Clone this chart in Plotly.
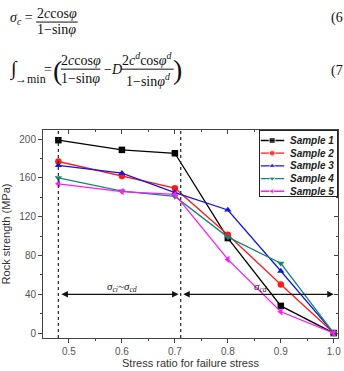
import plotly.graph_objects as go

# ---------------- data ----------------
stress_ratio = [0.48, 0.6, 0.7, 0.8, 0.9, 1.0]
sample_names = ["Sample 1", "Sample 2", "Sample 3", "Sample 4", "Sample 5"]
sample1 = [199, 189, 185.5, 98, 28, 0]
sample2 = [177, 162, 149.5, 101.5, 50, 0]
sample3 = [173, 165, 145, 127, 64, 0]
sample4 = [160, 146.5, 141, 99, 72, 0]
sample5 = [154, 146, 143, 76, 22, 0]
series = [sample1, sample2, sample3, sample4, sample5]
colors = ["#000000", "#ff1a1a", "#1414e6", "#12857a", "#ff1aff"]
symbols = ["square", "circle", "triangle-up", "triangle-down", "triangle-left"]

boundaries = [0.48, 0.711]          # dotted stage boundaries
arrow_level = 40
x_ticks = [0.5, 0.6, 0.7, 0.8, 0.9, 1.0]
y_ticks = [0, 40, 80, 120, 160, 200]

W, H = 344, 371
ML, MR, MT, MB = 43, 3, 130, 29
PW, PH = W - ML - MR, H - MT - MB


def px(x):
    return (x - ML) / PW


def py(y):
    return (H - MB - y) / PH


fig = go.Figure()

for name, vals, c, s in zip(sample_names, series, colors, symbols):
    fig.add_trace(go.Scatter(
        x=stress_ratio, y=vals, name=name, mode="lines+markers",
        line=dict(color=c, width=1.3),
        marker=dict(symbol=s, size=6.5, color=c),
        showlegend=False))

# legend drawn inside an inset subplot (x2/y2)
for i, (name, c, s) in enumerate(zip(sample_names, colors, symbols)):
    yy = 0.853 - i * 0.196
    fig.add_trace(go.Scatter(
        x=[0.013, 0.16, 0.316], y=[yy, yy, yy], mode="lines+markers",
        line=dict(color=c, width=1.3),
        marker=dict(symbol=s, size=[0, 6, 0], color=c),
        xaxis="x2", yaxis="y2", showlegend=False, hoverinfo="skip"))
    fig.add_annotation(
        x=0.37, y=yy, xref="x2", yref="y2", text="<b><i>%s</i></b>" % name,
        showarrow=False, xanchor="left", yanchor="middle",
        font=dict(family="Liberation Sans", size=10, color="#222"))

# empty trace for mirrored inward ticks
fig.add_trace(go.Scatter(x=[None], y=[None], xaxis="x3", yaxis="y3",
                         showlegend=False, hoverinfo="skip"))

# dotted boundaries
for b in boundaries:
    fig.add_shape(type="line", x0=b, x1=b, xref="x", yref="y domain",
                  y0=0, y1=1, line=dict(color="#333", width=1.3, dash="dot"))

# double arrows
spans = [(boundaries[0] + 0.003, boundaries[1] - 0.004),
         (boundaries[1] + 0.002, stress_ratio[-1])]
for a, b in spans:
    fig.add_annotation(x=b, y=arrow_level, ax=a, ay=arrow_level,
                       xref="x", yref="y", axref="x", ayref="y",
                       text="", showarrow=True, arrowhead=2, arrowsize=1,
                       arrowwidth=1.3, arrowcolor="#111",
                       arrowside="end+start")

fig.add_annotation(x=0.6, y=arrow_level + 7.5, xref="x", yref="y",
                   text="<i>σ<sub>ci</sub>~σ<sub>cd</sub></i>", showarrow=False,
                   font=dict(family="Liberation Serif", size=11, color="#222"))
fig.add_annotation(x=0.862, y=arrow_level + 7.5, xref="x", yref="y",
                   text="<i>σ<sub>cd</sub></i>", showarrow=False,
                   font=dict(family="Liberation Serif", size=11, color="#222"))

# ---------------- equations ----------------
ef = dict(family="Liberation Serif", size=14, color="#111")


def eq_text(x, y, t, anchor="center", size=14):
    fig.add_annotation(x=px(x), y=py(y), xref="paper", yref="paper", text=t,
                       showarrow=False, xanchor=anchor, yanchor="middle",
                       font=dict(ef, size=size))


def eq_line(x0, x1, y):
    fig.add_shape(type="line", xref="paper", yref="paper", x0=px(x0), x1=px(x1),
                  y0=py(y), y1=py(y), line=dict(color="#111", width=1))


eq_text(8, 16, "<i>σ<sub>c</sub></i> =", anchor="left")
eq_text(57, 11, "2<i>c</i>cos<i>φ</i>")
eq_line(36, 78, 20)
eq_text(57, 28, "1−sin<i>φ</i>")
eq_text(332, 16, "(6", anchor="left")

eq_text(7, 68, "∫", anchor="left", size=20)
eq_text(13, 78, "→min", anchor="left", size=12)
eq_text(42, 68, "=", anchor="left")
eq_text(58, 69, "(", size=28)
eq_text(81, 59, "2<i>c</i>cos<i>φ</i>")
eq_line(61, 101, 68)
eq_text(81, 78, "1−sin<i>φ</i>")
eq_text(103, 68, "−", anchor="left")
eq_text(110, 68, "<i>D</i>", anchor="left")
eq_text(148, 58, "2<i>c<sup>d</sup></i>cos<i>φ<sup>d</sup></i>")
eq_line(122, 175, 68)
eq_text(149, 79, "1−sin<i>φ<sup>d</sup></i>")
eq_text(179, 68, ")", size=28)
eq_text(332, 70, "(7", anchor="left")

axis_col = "#444"
tick_font = dict(family="Liberation Sans", size=10, color="#555")

fig.update_layout(
    width=W, height=H,
    margin=dict(l=ML, r=MR, t=MT, b=MB),
    paper_bgcolor="white", plot_bgcolor="white",
    showlegend=False,
    xaxis=dict(range=[0.451, 1.008], tickvals=x_ticks,
               ticktext=[str(v) for v in x_ticks],
               ticks="outside", ticklen=4, tickcolor=axis_col,
               minor=dict(dtick=0.05, tick0=0.45, ticks="outside", ticklen=2,
                          tickcolor=axis_col),
               showline=True, linecolor=axis_col, linewidth=1, mirror=True,
               showgrid=False, zeroline=False, tickfont=tick_font,
               title=dict(text="Stress ratio for failure stress", standoff=3,
                          font=dict(family="Liberation Sans", size=11,
                                    color="#333"))),
    yaxis=dict(range=[-5.1, 209.5], tickvals=y_ticks,
               ticks="outside", ticklen=4, tickcolor=axis_col,
               minor=dict(dtick=20, tick0=0, ticks="outside", ticklen=2,
                          tickcolor=axis_col),
               showline=True, linecolor=axis_col, linewidth=1, mirror=True,
               showgrid=False, zeroline=False, tickfont=tick_font,
               title=dict(text="Rock strength (MPa)", standoff=9,
                          font=dict(family="Liberation Sans", size=11,
                                    color="#333"))),
    xaxis3=dict(overlaying="x", side="top", range=[0.451, 1.008],
                tickvals=x_ticks, ticks="inside", ticklen=4,
                tickcolor=axis_col, showticklabels=False, showgrid=False,
                zeroline=False,
                minor=dict(dtick=0.05, tick0=0.45, ticks="inside", ticklen=2,
                           tickcolor=axis_col)),
    yaxis3=dict(overlaying="y", side="right", range=[-5.1, 209.5],
                tickvals=y_ticks, ticks="inside", ticklen=4,
                tickcolor=axis_col, showticklabels=False, showgrid=False,
                zeroline=False, anchor="x3",
                minor=dict(dtick=20, tick0=0, ticks="inside", ticklen=2,
                           tickcolor=axis_col)),
    xaxis2=dict(domain=[px(262), 0.997], range=[0, 1], anchor="y2",
                showticklabels=False, ticks="", showgrid=False, zeroline=False,
                showline=True, linecolor="#222", linewidth=1, mirror=True),
    yaxis2=dict(domain=[py(197), py(131)], range=[0, 1], anchor="x2",
                showticklabels=False, ticks="", showgrid=False, zeroline=False,
                showline=True, linecolor="#222", linewidth=1, mirror=True),
)

fig.write_html("out.html")
